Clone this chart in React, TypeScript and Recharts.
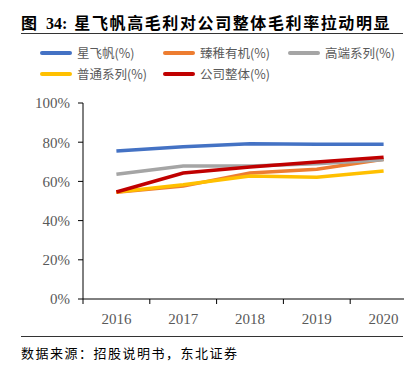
import React from "react";
import { LineChart, Line, XAxis, YAxis } from "recharts";

const years = ["2016", "2017", "2018", "2019", "2020"];
const xingfeifan = [75.5, 77.7, 79.2, 79, 79];
const zhenya = [54.5, 57.6, 64.3, 66.2, 71.3];
const gaoduan = [63.6, 67.9, 67.9, 69, 71];
const putong = [54.6, 58.3, 62.8, 62.1, 65.3];
const gongsi = [54.6, 64.3, 67.3, 69.9, 72.3];
const yTicks = [0, 20, 40, 60, 80, 100];

const series = [
  { key: "xingfeifan", name: "星飞帆(%)", color: "#4472C4" },
  { key: "zhenya", name: "臻稚有机(%)", color: "#ED7D31" },
  { key: "gaoduan", name: "高端系列(%)", color: "#A5A5A5" },
  { key: "putong", name: "普通系列(%)", color: "#FFC000" },
  { key: "gongsi", name: "公司整体(%)", color: "#C00000" },
];

const data = years.map((year, i) => ({
  year,
  xingfeifan: xingfeifan[i],
  zhenya: zhenya[i],
  gaoduan: gaoduan[i],
  putong: putong[i],
  gongsi: gongsi[i],
}));

const serif = "'Liberation Serif', 'DejaVu Serif', serif";
const cjk = "'Noto Sans CJK SC', sans-serif";
const CHART_W = 420;
const LEFT = 83;
const RIGHT = 3;
const BAND = (CHART_W - LEFT - RIGHT) / years.length;

function YearTick(props: any) {
  const { x, y, payload, index } = props;
  const axisY = y - 5;
  return (
    <g>
      <line x1={x - BAND / 2} x2={x - BAND / 2} y1={axisY} y2={axisY + 5} stroke="#000" />
      {index === years.length - 1 && (
        <line x1={x + BAND / 2} x2={x + BAND / 2} y1={axisY} y2={axisY + 5} stroke="#000" />
      )}
      <text x={x} y={axisY + 25} textAnchor="middle" fill="#595959" fontSize={15} fontFamily={serif}>
        {payload.value}
      </text>
    </g>
  );
}

function LegendItem({ name, color, x, y }: { name: string; color: string; x: number; y: number }) {
  return (
    <div style={{ position: "absolute", left: x, top: y, display: "flex", alignItems: "center", whiteSpace: "nowrap" }}>
      <div style={{ width: 32, height: 4, borderRadius: 2, background: color, marginRight: 5 }} />
      <span style={{ fontFamily: cjk, fontSize: 12.5, color: "#595959" }}>{name}</span>
    </div>
  );
}

export default function App() {
  const legendPos = [
    { x: 40, y: 43 },
    { x: 163, y: 43 },
    { x: 288, y: 43 },
    { x: 40, y: 64 },
    { x: 163, y: 64 },
  ];
  return (
    <div style={{ position: "absolute", left: 0, top: 0, width: 420, height: 368, background: "#fff", overflow: "hidden" }}>
      <div style={{ position: "absolute", left: 21, top: 10, fontFamily: cjk, fontWeight: 700, fontSize: 16, color: "#000", whiteSpace: "nowrap" }}>
        <span>图</span>
        <span style={{ marginLeft: 9, fontFamily: serif }}>34:</span>
        <span style={{ marginLeft: 7, letterSpacing: 1.6 }}>星飞帆高毛利对公司整体毛利率拉动明显</span>
      </div>
      <div style={{ position: "absolute", left: 21, top: 33, width: 382, height: 1, background: "#333" }} />
      {series.map((s, i) => (
        <LegendItem key={s.key} name={s.name} color={s.color} x={legendPos[i].x} y={legendPos[i].y} />
      ))}
      <div style={{ position: "absolute", left: 0, top: 0, width: 404, height: 368, overflow: "hidden" }}>
        <LineChart
          width={CHART_W}
          height={368}
          data={data}
          margin={{ top: 103, right: RIGHT, bottom: 29, left: LEFT - 60 }}
        >
          <XAxis
            dataKey="year"
            tick={<YearTick />}
            tickLine={false}
            tickSize={5}
            tickMargin={0}
            axisLine={{ stroke: "#000" }}
            interval={0}
            height={40}
            padding={{ left: BAND / 2, right: BAND / 2 }}
          />
          <YAxis
            domain={[0, 100]}
            ticks={yTicks}
            tickFormatter={(v: number) => `${v}%`}
            width={60}
            tickSize={5}
            tickMargin={8}
            axisLine={{ stroke: "#000" }}
            tickLine={{ stroke: "#000" }}
            tick={{ fill: "#595959", fontSize: 15, fontFamily: serif }}
          />
          {series.map((s) => (
            <Line
              key={s.key}
              dataKey={s.key}
              name={s.name}
              stroke={s.color}
              strokeWidth={3.5}
              dot={false}
              isAnimationActive={false}
            />
          ))}
        </LineChart>
      </div>
      <div style={{ position: "absolute", left: 21, top: 336, width: 382, height: 1, background: "#333" }} />
      <div style={{ position: "absolute", left: 21, top: 343, fontFamily: cjk, fontSize: 13, letterSpacing: 1.5, color: "#000", whiteSpace: "nowrap" }}>
        数据来源：招股说明书，东北证券
      </div>
    </div>
  );
}
